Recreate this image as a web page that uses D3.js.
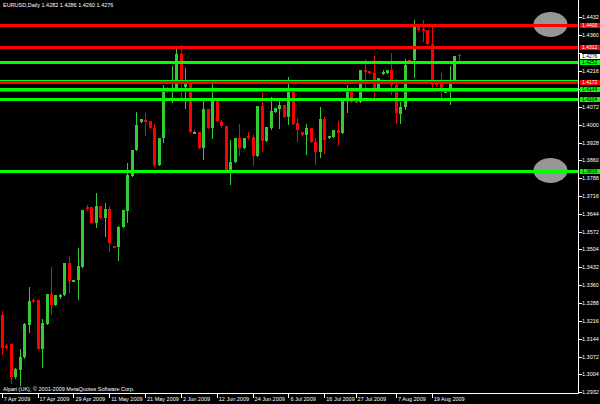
<!DOCTYPE html>
<html><head><meta charset="utf-8">
<script src="https://cdn.jsdelivr.net/npm/d3@7"></script>
<style>html,body{margin:0;padding:0;background:#000;overflow:hidden}svg{display:block}</style>
</head><body>
<svg id="c" width="600" height="404"></svg>
<script>
// ---------- data (EURUSD, Daily) ----------
const symbolTitle = "EURUSD,Daily  1.4282 1.4286 1.4260 1.4276";
const footerText = "Alpari (UK), \u00a9 2001-2009 MetaQuotes Software Corp.";

const open = [1.3240,1.3116,1.3124,1.2992,1.3020,1.3072,1.3200,1.3300,1.3300,1.3104,
1.3204,1.3324,1.3280,1.3312,1.3320,1.3448,1.3376,1.3380,1.3432,1.3672,
1.3672,1.3608,1.3676,1.3628,1.3664,1.3516,1.3512,1.3592,1.3656,1.3796,
1.3900,1.4012,1.4020,1.4016,1.3988,1.3840,1.3948,1.4148,1.4144,1.4140,
1.4284,1.4152,1.4164,1.3968,1.3972,1.3908,1.4064,1.3988,1.4104,1.4012,
1.3996,1.3816,1.3852,1.3948,1.3908,1.3956,1.3952,1.3876,1.4076,1.3936,
1.3988,1.4052,1.4064,1.4080,1.4032,1.4132,1.4008,1.3972,1.3960,1.3988,
1.3932,1.3892,1.4024,1.3948,1.3952,1.3980,1.3968,1.4100,1.4140,1.4096,
1.4092,1.4220,1.4216,1.4208,1.4136,1.4208,1.4208,1.4220,1.4160,1.4044,
1.4072,1.4260,1.4260,1.4392,1.4384,1.4380,1.4324,1.4168,1.4172,1.4132,
1.4136,1.4180,1.4282];
const high = [1.3256,1.3124,1.3124,1.3028,1.3104,1.3208,1.3352,1.3308,1.3300,1.3224,
1.3324,1.3432,1.3320,1.3324,1.3448,1.3476,1.3380,1.3508,1.3660,1.3680,
1.3672,1.3728,1.3676,1.3688,1.3676,1.3516,1.3596,1.3660,1.3848,1.3900,
1.4052,1.4024,1.4048,1.4016,1.4004,1.3948,1.4160,1.4152,1.4236,1.4312,
1.4320,1.4228,1.4164,1.3976,1.3972,1.4100,1.4064,1.4168,1.4104,1.4020,
1.3996,1.3940,1.3948,1.4004,1.3948,1.3972,1.3960,1.4076,1.4132,1.3992,
1.4112,1.4068,1.4100,1.4080,1.4192,1.4132,1.4028,1.3972,1.4004,1.3988,
1.3948,1.4072,1.4032,1.3956,1.3980,1.4016,1.4100,1.4160,1.4140,1.4096,
1.4220,1.4264,1.4216,1.4276,1.4188,1.4220,1.4220,1.4288,1.4184,1.4092,
1.4264,1.4260,1.4420,1.4392,1.4420,1.4380,1.4392,1.4172,1.4208,1.4140,
1.4236,1.4276,1.4286];
const low = [1.3084,1.3104,1.2968,1.2988,1.2960,1.3068,1.3172,1.3292,1.3104,1.3032,
1.3204,1.3244,1.3280,1.3308,1.3320,1.3332,1.3376,1.3304,1.3432,1.3660,
1.3608,1.3592,1.3628,1.3556,1.3496,1.3512,1.3460,1.3592,1.3612,1.3796,
1.3900,1.4012,1.3960,1.3988,1.3836,1.3840,1.3932,1.4132,1.4092,1.4140,
1.4104,1.4068,1.3972,1.3968,1.3908,1.3864,1.3988,1.3948,1.4016,1.3992,
1.3816,1.3764,1.3852,1.3880,1.3908,1.3944,1.3840,1.3876,1.3896,1.3936,
1.3984,1.4052,1.3988,1.4032,1.4004,1.4004,1.3936,1.3960,1.3884,1.3932,
1.3844,1.3872,1.3888,1.3948,1.3952,1.3920,1.3968,1.4052,1.4092,1.4092,
1.4092,1.4152,1.4208,1.4112,1.4136,1.4204,1.4208,1.4124,1.4008,1.4008,
1.4064,1.4248,1.4192,1.4380,1.4336,1.4324,1.4144,1.4156,1.4100,1.4132,
1.4084,1.4180,1.4260];
const close = [1.3108,1.3112,1.2992,1.3024,1.3072,1.3204,1.3296,1.3296,1.3104,1.3208,
1.3324,1.3280,1.3320,1.3320,1.3448,1.3376,1.3380,1.3436,1.3660,1.3668,
1.3608,1.3676,1.3628,1.3664,1.3528,1.3512,1.3592,1.3660,1.3800,1.3900,
1.4000,1.4024,1.4016,1.3988,1.3840,1.3948,1.4140,1.4136,1.4148,1.4284,
1.4180,1.4172,1.3972,1.3972,1.3908,1.4064,1.3988,1.4104,1.4016,1.3996,
1.3816,1.3852,1.3948,1.3908,1.3948,1.3952,1.3876,1.4076,1.3936,1.3992,
1.4056,1.4068,1.4080,1.4032,1.4140,1.4004,1.3980,1.3960,1.3988,1.3932,
1.3892,1.4024,1.3940,1.3956,1.3980,1.3968,1.4100,1.4140,1.4092,1.4092,
1.4220,1.4212,1.4208,1.4136,1.4188,1.4212,1.4220,1.4160,1.4048,1.4072,
1.4240,1.4248,1.4392,1.4380,1.4376,1.4324,1.4160,1.4164,1.4136,1.4136,
1.4180,1.4276,1.4276];

const priceTicks = [1.2932,1.3004,1.3072,1.3144,1.3216,1.3288,1.3360,1.3432,1.3504,1.3572,
1.3644,1.3716,1.3788,1.3860,1.3928,1.4000,1.4072,1.4144,1.4216,1.4288,1.4360,1.4432];

const dateTickBars = [0,8,16,24,32,40,48,56,64,72,79,88,96];
const dateTickLabels = ["7 Apr 2009","17 Apr 2009","29 Apr 2009","11 May 2009","21 May 2009",
"2 Jun 2009","12 Jun 2009","24 Jun 2009","6 Jul 2009","16 Jul 2009","27 Jul 2009","7 Aug 2009","19 Aug 2009"];

// horizontal support / resistance levels
const levelPrices = [1.4400,1.4312,1.4252,1.4180,1.4172,1.4144,1.4136,1.4104,1.3816];
const levelKinds  = ["resistance","resistance","support","support","resistance","support","resistance","support","support"];
const levelMajor  = [true,true,true,false,true,true,false,true,true];
// highlighted levels (marked with grey spots)
const markedLevels = [1.4400,1.3816];

// ---------- chart ----------
const W = 600, H = 404;
const plotRight = 578.5, plotBottom = 392.5;
const nBars = close.length;
const svg = d3.select("#c");
svg.append("rect").attr("width",W).attr("height",H).attr("fill","#000");

const x = d3.scaleBand().domain(d3.range(nBars)).range([-0.54, -0.54 + 4.48*nBars]).padding(0);
const cx = i => x(i) + x.step()/2;
const y = d3.scaleLinear().domain([1.2932, 1.4432]).range([392, 17]);

const RED = "#ff0000", GREEN = "#32cd32", LIME = "#00ff00";
const fmt = d3.format(".4f");
const font = "'Liberation Sans', Arial, sans-serif";

// grey marker spots
svg.append("g").selectAll("ellipse").data(markedLevels).join("ellipse")
  .attr("cx", 550.5).attr("cy", d => y(d) - 0.5).attr("rx", 17).attr("ry", 12.5)
  .attr("fill", "#969696");

// candles
const bars = d3.range(nBars).map(i => ({i, o:open[i], h:high[i], l:low[i], c:close[i]}));
const cg = svg.append("g").attr("shape-rendering","crispEdges");
cg.selectAll("line").data(bars).join("line")
  .attr("x1", d => Math.round(cx(d.i)) + 0.5).attr("x2", d => Math.round(cx(d.i)) + 0.5)
  .attr("y1", d => y(d.h)).attr("y2", d => y(d.l) + 0.5)
  .attr("stroke", d => d.c < d.o ? RED : GREEN).attr("stroke-width", 1);
cg.selectAll("rect").data(bars).join("rect")
  .attr("x", d => Math.round(cx(d.i)) - 1).attr("width", 3)
  .attr("y", d => y(Math.max(d.o, d.c)))
  .attr("height", d => Math.max(1.5, Math.abs(y(d.o) - y(d.c))))
  .attr("fill", d => d.c < d.o ? RED : GREEN);

// level lines
const levels = levelPrices.map((p,k) => ({p, kind: levelKinds[k], major: levelMajor[k]}));
const lg = svg.append("g").attr("shape-rendering","crispEdges");
lg.selectAll("line").data(levels).join("line")
  .attr("x1", 0).attr("x2", plotRight)
  .attr("y1", d => y(d.p)).attr("y2", d => y(d.p))
  .attr("stroke", d => d.kind === "resistance" ? RED : LIME)
  .attr("stroke-width", d => d.major ? 3 : 1);

// axes frame
const ag = svg.append("g").attr("shape-rendering","crispEdges");
ag.append("line").attr("x1", plotRight).attr("x2", plotRight).attr("y1", 0).attr("y2", plotBottom + 1)
  .attr("stroke", "#fff");
ag.append("line").attr("x1", 0).attr("x2", plotRight).attr("y1", plotBottom + 1).attr("y2", plotBottom + 1)
  .attr("stroke", "#fff");

// boxes on the price scale (levels + current price) cover the plain tick labels
const boxLevels = levels.filter(d => d.major);
const last = close[nBars - 1];
const boxYs = boxLevels.map(d => y(d.p)).concat([y(last)]);
const visibleTicks = priceTicks.filter(t => boxYs.every(by => Math.abs(y(t) - by) >= 6));

// price axis
const yAxisG = svg.append("g");
yAxisG.selectAll("line").data(priceTicks).join("line")
  .attr("x1", plotRight).attr("x2", plotRight + 3)
  .attr("y1", d => Math.round(y(d)) + 0.5).attr("y2", d => Math.round(y(d)) + 0.5)
  .attr("stroke", "#fff").attr("shape-rendering","crispEdges");
yAxisG.selectAll("text").data(visibleTicks).join("text")
  .attr("x", 582).attr("y", d => y(d) + 2)
  .attr("fill", "#fff").attr("font-family", font).attr("font-size", 5.5)
  .text(d => fmt(d));

// level price boxes
const bg = svg.append("g");
const bgs = bg.selectAll("g").data(boxLevels).join("g")
  .attr("transform", d => `translate(0,${y(d.p)})`);
bgs.append("rect").attr("x", 579.5).attr("y", -2.5).attr("width", 21).attr("height", 5.5)
  .attr("fill", d => d.kind === "resistance" ? RED : LIME).attr("shape-rendering","crispEdges");
bgs.append("text").attr("x", 582).attr("y", 2)
  .attr("fill", d => d.kind === "resistance" ? "#fff" : "#000")
  .attr("font-family", font).attr("font-size", 5).text(d => fmt(d.p));

// current price box
const cur = svg.append("g").attr("transform", `translate(0,${y(last)})`);
cur.append("rect").attr("x", 579.5).attr("y", -2.5).attr("width", 21).attr("height", 5.5)
  .attr("fill", "#fff").attr("shape-rendering","crispEdges");
cur.append("text").attr("x", 582).attr("y", 2).attr("fill", "#000")
  .attr("font-family", font).attr("font-size", 5).text(fmt(last));

// time axis
const xg = svg.append("g");
xg.selectAll("line").data(dateTickBars).join("line")
  .attr("x1", d => Math.round(cx(d)) + 0.5).attr("x2", d => Math.round(cx(d)) + 0.5)
  .attr("y1", plotBottom + 1).attr("y2", plotBottom + 5)
  .attr("stroke", "#fff").attr("shape-rendering","crispEdges");
xg.selectAll("text").data(dateTickBars).join("text")
  .attr("x", d => cx(d) + 2).attr("y", 400.5)
  .attr("fill", "#fff").attr("font-family", font).attr("font-size", 5.5)
  .text((d,k) => dateTickLabels[k]);

// title and footer
svg.append("text").attr("x", 3).attr("y", 7).attr("fill", "#fff")
  .attr("font-family", font).attr("font-size", 5.5).text(symbolTitle);
svg.append("text").attr("x", 3).attr("y", 391).attr("fill", "#fff")
  .attr("font-family", font).attr("font-size", 5.5).text(footerText);
</script>
</body></html>
